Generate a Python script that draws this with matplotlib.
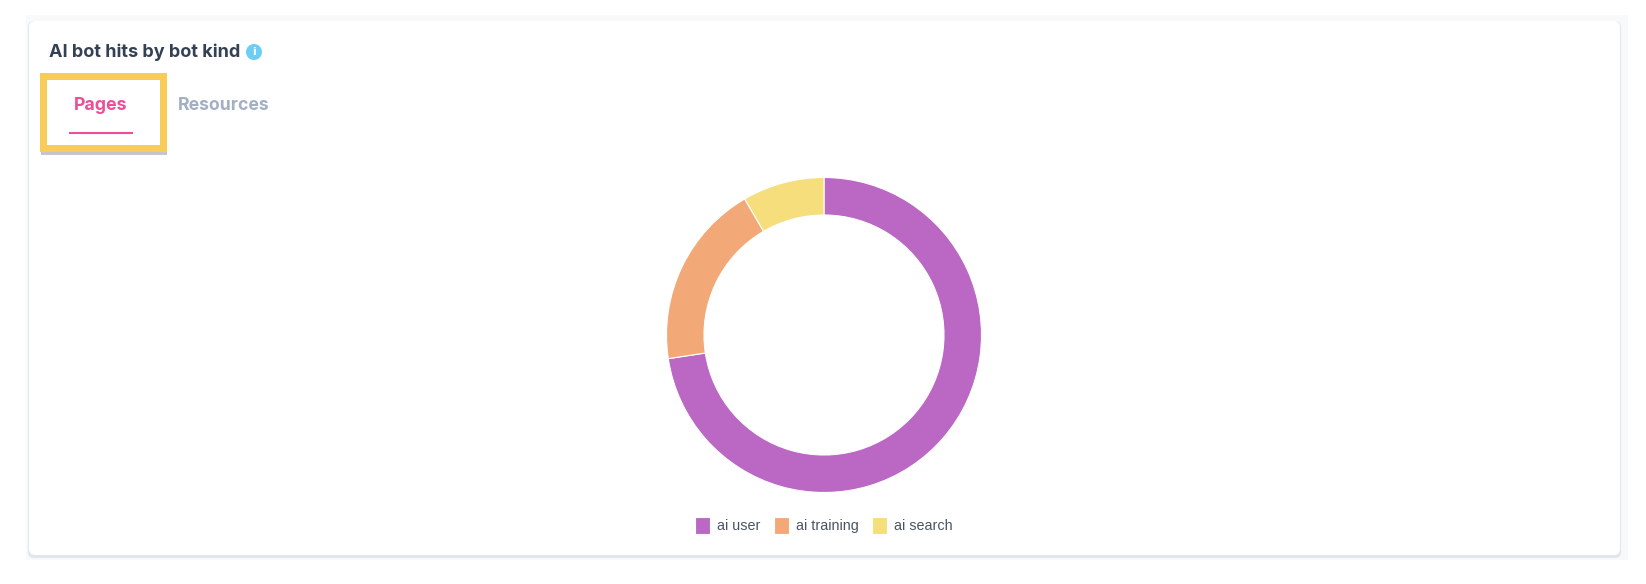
import matplotlib
matplotlib.use("Agg")
import matplotlib.pyplot as plt
from matplotlib.patches import Rectangle, FancyBboxPatch, Circle

W, H = 1646, 584

kinds = ["ai user", "ai training", "ai search"]
share = [72.6, 19.0, 8.4]
kind_colors = ["#BA68C4", "#F3A977", "#F6DE7C"]

title = "AI bot hits by bot kind"
tabs = ["Pages", "Resources"]

fig = plt.figure(figsize=(W / 100, H / 100), dpi=100, facecolor="white")

# background layer in pixel coordinates, y going down like the screenshot
bg = fig.add_axes([0, 0, 1, 1])
bg.set_xlim(0, W)
bg.set_ylim(H, 0)
bg.axis("off")

bg.add_patch(Rectangle((26, 15), 1602, 545, fc="#F8F9FB", ec="none"))
bg.add_patch(FancyBboxPatch((28, 21), 1593, 537, boxstyle="round,pad=0,rounding_size=6",
                            fc="#E2E5EC", ec="none"))
bg.add_patch(FancyBboxPatch((29, 21), 1591, 534, boxstyle="round,pad=0,rounding_size=6",
                            fc="white", ec="none"))

bg.text(49, 52, title, fontsize=13, fontweight="bold", family="Inter",
        color="#344054", va="center", ha="left")
bg.add_patch(Circle((254, 52), 8, fc="#6CCDF5", ec="none"))
bg.text(254, 52, "i", fontsize=8, fontweight="bold", color="white", va="center", ha="center")

# highlighted tab
bg.add_patch(Rectangle((41, 82), 126.5, 72.5, fc="#C4C6CC", ec="none"))
bg.add_patch(Rectangle((43.5, 75.5), 120, 72.5, fc="white", ec="#F7CC58", lw=5.04))
bg.text(101, 105, tabs[0], fontsize=12.8, fontweight="bold", family="Inter",
        color="#EC4E98", va="center", ha="center")
bg.plot([69, 133], [132.5, 132.5], color="#EC4E98", lw=1.5, solid_capstyle="butt")
bg.text(224, 105, tabs[1], fontsize=12.7, fontweight="bold", family="Inter",
        color="#A3AFC2", va="center", ha="center")

# donut, centre (824, 335) and outer radius 157.5 px
cx, cy, r = 824, 335, 157.5
ax = fig.add_axes([(cx - r) / W, 1 - (cy + r) / H, 2 * r / W, 2 * r / H])
wedges, _ = ax.pie(share, colors=kind_colors, startangle=90, counterclock=False, radius=1,
                   wedgeprops=dict(width=37.5 / 157.5, edgecolor="white", linewidth=0.8))
ax.set_xlim(-1, 1)
ax.set_ylim(-1, 1)

fig.legend(wedges, kinds, loc="center", bbox_to_anchor=(824 / W, 1 - 525.5 / H), ncols=3,
           frameon=False, prop=dict(family="Liberation Sans", size=10.4), labelcolor="#4A5366",
           handlelength=1.0, handleheight=1.35, handletextpad=0.5, columnspacing=0.95)

fig.savefig("out.png", dpi=100)
